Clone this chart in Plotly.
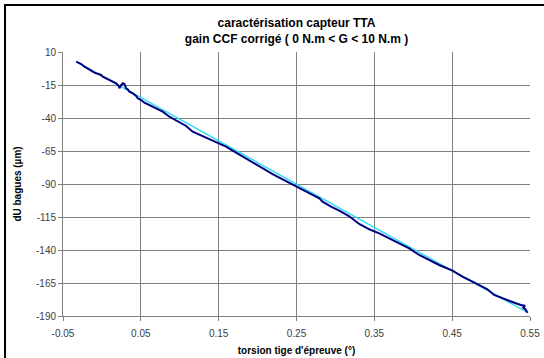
import plotly.graph_objects as go

# measured curve: torsion (deg) vs dU (µm)
torsion = [-0.0331, -0.0266, -0.0224, -0.0182, -0.0138, -0.0096, -0.0053, -0.0010, 0.0011, 0.0055,
           0.0097, 0.0139, 0.0183, 0.0216, 0.0225, 0.0247, 0.0268, 0.0289, 0.0311, 0.0332,
           0.0354, 0.0396, 0.0440, 0.0460, 0.0504, 0.0546, 0.0610, 0.0696, 0.0781, 0.0867,
           0.0995, 0.1082, 0.1166, 0.1295, 0.1423, 0.1496, 0.1595, 0.1680, 0.1808, 0.1937,
           0.2065, 0.2193, 0.2322, 0.2506, 0.2664, 0.2793, 0.2835, 0.2943, 0.3049, 0.3178,
           0.3306, 0.3435, 0.3563, 0.3691, 0.3820, 0.3948, 0.4076, 0.4205, 0.4333, 0.4504,
           0.4632, 0.4761, 0.4868, 0.4953, 0.5039, 0.5125, 0.5189, 0.5254, 0.5318, 0.5382,
           0.5437, 0.5412, 0.5443, 0.5467]
dU = [2.65, 0.91, -1.14, -2.35, -4.17, -5.68, -6.67, -7.42, -8.71, -9.92,
      -11.21, -12.50, -13.71, -15.76, -17.50, -15.0, -13.71, -14.24, -17.50, -18.26,
      -20.08, -21.29, -23.33, -25.08, -26.36, -28.41, -30.15, -32.65, -35.23, -39.02,
      -43.56, -46.06, -50.38, -53.64, -57.20, -59.17, -61.74, -64.77, -69.32, -73.56,
      -78.11, -82.43, -86.44, -92.05, -97.05, -100.84, -103.41, -107.20, -110.23, -114.48,
      -120.30, -124.32, -127.35, -131.14, -134.93, -138.71, -143.79, -147.58, -151.36, -155.68,
      -160.23, -164.02, -167.27, -169.77, -174.09, -176.14, -177.88, -179.17, -180.38, -181.67,
      -182.20, -183.6, -185.0, -187.5]

# linear trend line end points
fit_x = [-0.033, 0.547]
fit_y = [2.65, -187.5]

x_ticks = [-0.05, 0.05, 0.15, 0.25, 0.35, 0.45, 0.55]
x_ticklabels = ["-0.05", "0.05", "0.15", "0.25", "0.35", "0.45", "0.55"]
y_ticks = [10, -15, -40, -65, -90, -115, -140, -165, -190]
y_ticklabels = ["10", "-15", "-40", "-65", "-90", "-115", "-140", "-165", "-190"]

FONT = "Liberation Sans, Arial, sans-serif"

fig = go.Figure()
fig.add_trace(go.Scatter(x=fit_x, y=fit_y, mode="lines",
                         line=dict(color="#33DDF0", width=1.5), showlegend=False))
fig.add_trace(go.Scatter(x=torsion, y=dU, mode="lines",
                         line=dict(color="#000080", width=2), showlegend=False))

fig.update_layout(
    template="none",
    width=544, height=358,
    margin=dict(l=63, r=14, t=52, b=42, autoexpand=False),
    paper_bgcolor="white", plot_bgcolor="white",
    font=dict(family=FONT, color="#404040", size=10),
    title=dict(text="<b>caractérisation capteur TTA<br>gain CCF corrigé ( 0 N.m < G < 10 N.m )</b>",
               x=296.5/544, xanchor="center", y=1 - 27/358, yanchor="top",
               font=dict(family=FONT, size=12, color="black")),
    xaxis=dict(range=[-0.05, 0.55], tickvals=x_ticks, ticktext=x_ticklabels,
               automargin=False,
               showgrid=True, gridcolor="#808080", gridwidth=1,
               showline=True, linecolor="#808080", linewidth=1,
               ticks="outside", ticklen=4, tickcolor="#808080",
               ticklabelstandoff=4,
               zeroline=False,
               title=dict(text="<b>torsion tige d'épreuve (°)</b>", standoff=8,
                          font=dict(family=FONT, size=10, color="black"))),
    yaxis=dict(range=[-190, 10], tickvals=y_ticks, ticktext=y_ticklabels,
               automargin=False,
               showgrid=True, gridcolor="#808080", gridwidth=1,
               showline=True, linecolor="#808080", linewidth=1,
               ticks="outside", ticklen=4, tickcolor="#808080",
               zeroline=False,
               title=dict(text="<b>dU bagues (µm)</b>", standoff=12,
                          font=dict(family=FONT, size=10, color="black"))),
    shapes=[dict(type="rect", xref="paper", yref="paper",
                 x0=-58/467, x1=1.5, y0=-0.5, y1=1 + 47/264,
                 line=dict(color="black", width=2), fillcolor="rgba(0,0,0,0)")],
)

fig.write_html("out.html", config={"displayModeBar": False},
               post_script="document.body.style.margin='0';document.body.style.overflow='hidden';")
